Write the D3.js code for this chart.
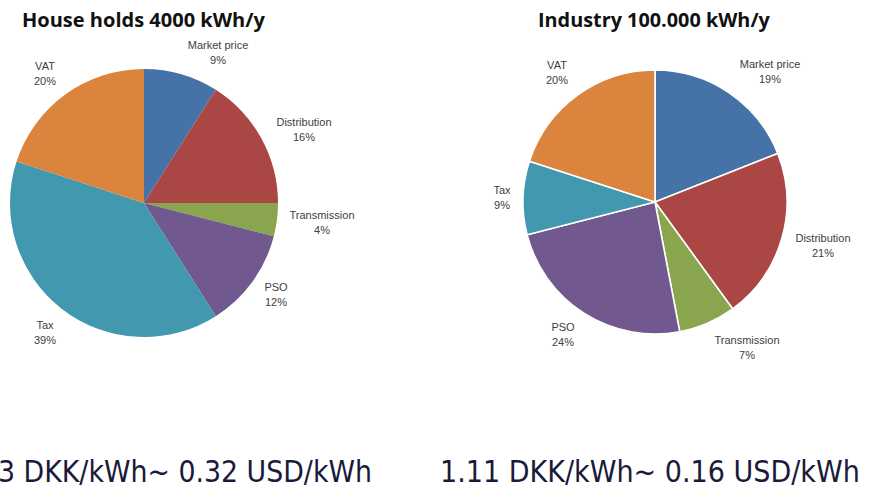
<!DOCTYPE html>
<html>
<head>
<meta charset="utf-8">
<script src="https://cdn.jsdelivr.net/npm/d3@7"></script>
<style>
  html, body { margin: 0; padding: 0; background: #ffffff; }
  svg { display: block; }
</style>
</head>
<body>
<svg id="chart" width="869" height="488"></svg>
<script>
// ---- data ----
const categories = ["Market price", "Distribution", "Transmission", "PSO", "Tax", "VAT"];
const householdValues = [9, 16, 4, 12, 39, 20];
const industryValues = [19, 21, 7, 24, 9, 20];
const titles = ["House holds 4000 kWh/y", "Industry 100.000 kWh/y"];
const priceNotes = ["3 DKK/kWh~ 0.32 USD/kWh", "1.11 DKK/kWh~ 0.16 USD/kWh"];
const colors = ["#4572A7", "#AA4643", "#89A54E", "#71588F", "#4198AF", "#DB843D"];

// ---- layout ----
const svg = d3.select("#chart");
const color = d3.scaleOrdinal().domain(categories).range(colors);
const pie = d3.pie().sort(null).value(d => d.value);

const charts = [
  { values: householdValues, cx: 144, cy: 203, r: 134, stroke: "none", sw: 0,
    title: titles[0], titleX: 22, titleW: 243,
    note: priceNotes[0], noteX: -2, noteW: 374,
    labels: { // label anchor positions (centre of the two-line label)
      "Market price": [218, 45], "Distribution": [304, 122], "Transmission": [322, 215],
      "PSO": [276, 287], "Tax": [45, 325], "VAT": [45, 66] } },
  { values: industryValues, cx: 655, cy: 202, r: 132, stroke: "#ffffff", sw: 1.6,
    title: titles[1], titleX: 538, titleW: 232,
    note: priceNotes[1], noteX: 440, noteW: 420,
    labels: {
      "Market price": [770, 64], "Distribution": [823, 238], "Transmission": [747, 340],
      "PSO": [563, 327], "Tax": [502, 190], "VAT": [557, 65] } }
];

function fitText(sel, targetW) {
  const node = sel.node();
  const fs = parseFloat(sel.attr("font-size"));
  const w = node.getComputedTextLength();
  if (w > 0) sel.attr("font-size", (fs * targetW / w).toFixed(2));
}

charts.forEach(c => {
  const data = categories.map((k, i) => ({ key: k, value: c.values[i] }));
  const arcs = pie(data);
  const arc = d3.arc().innerRadius(0).outerRadius(c.r);
  const g = svg.append("g").attr("transform", `translate(${c.cx},${c.cy})`);
  g.selectAll("path").data(arcs).join("path")
    .attr("d", arc)
    .attr("fill", d => color(d.data.key))
    .attr("stroke", c.stroke)
    .attr("stroke-width", c.sw)
    .attr("stroke-linejoin", "round");

  // labels
  const lg = svg.append("g");
  arcs.forEach(a => {
    const p = c.labels[a.data.key];
    const t = lg.append("text")
      .attr("x", p[0]).attr("y", p[1])
      .attr("text-anchor", "middle")
      .attr("font-family", "Liberation Sans Narrow, Liberation Sans, Arial, sans-serif")
      .attr("font-size", 11)
      .attr("fill", "#404040");
    t.append("tspan").attr("x", p[0]).attr("dy", "0.35em").text(a.data.key);
    t.append("tspan").attr("x", p[0]).attr("dy", "15").text(Math.round(a.data.value) + "%");
  });

  // title
  const tt = svg.append("text")
    .attr("x", c.titleX).attr("y", 27)
    .attr("font-family", "Open Sans, Liberation Sans, sans-serif")
    .attr("font-weight", "bold")
    .attr("font-size", 18)
    .attr("fill", "#111111")
    .text(c.title);
  fitText(tt, c.titleW);

  // bottom note
  const nt = svg.append("text")
    .attr("x", c.noteX).attr("y", 482)
    .attr("font-family", "DejaVu Sans Condensed, DejaVu Sans, sans-serif")
    .attr("font-size", 26)
    .attr("fill", "#1a1a3a")
    .text(c.note);
  fitText(nt, c.noteW);
});
</script>
</body>
</html>
